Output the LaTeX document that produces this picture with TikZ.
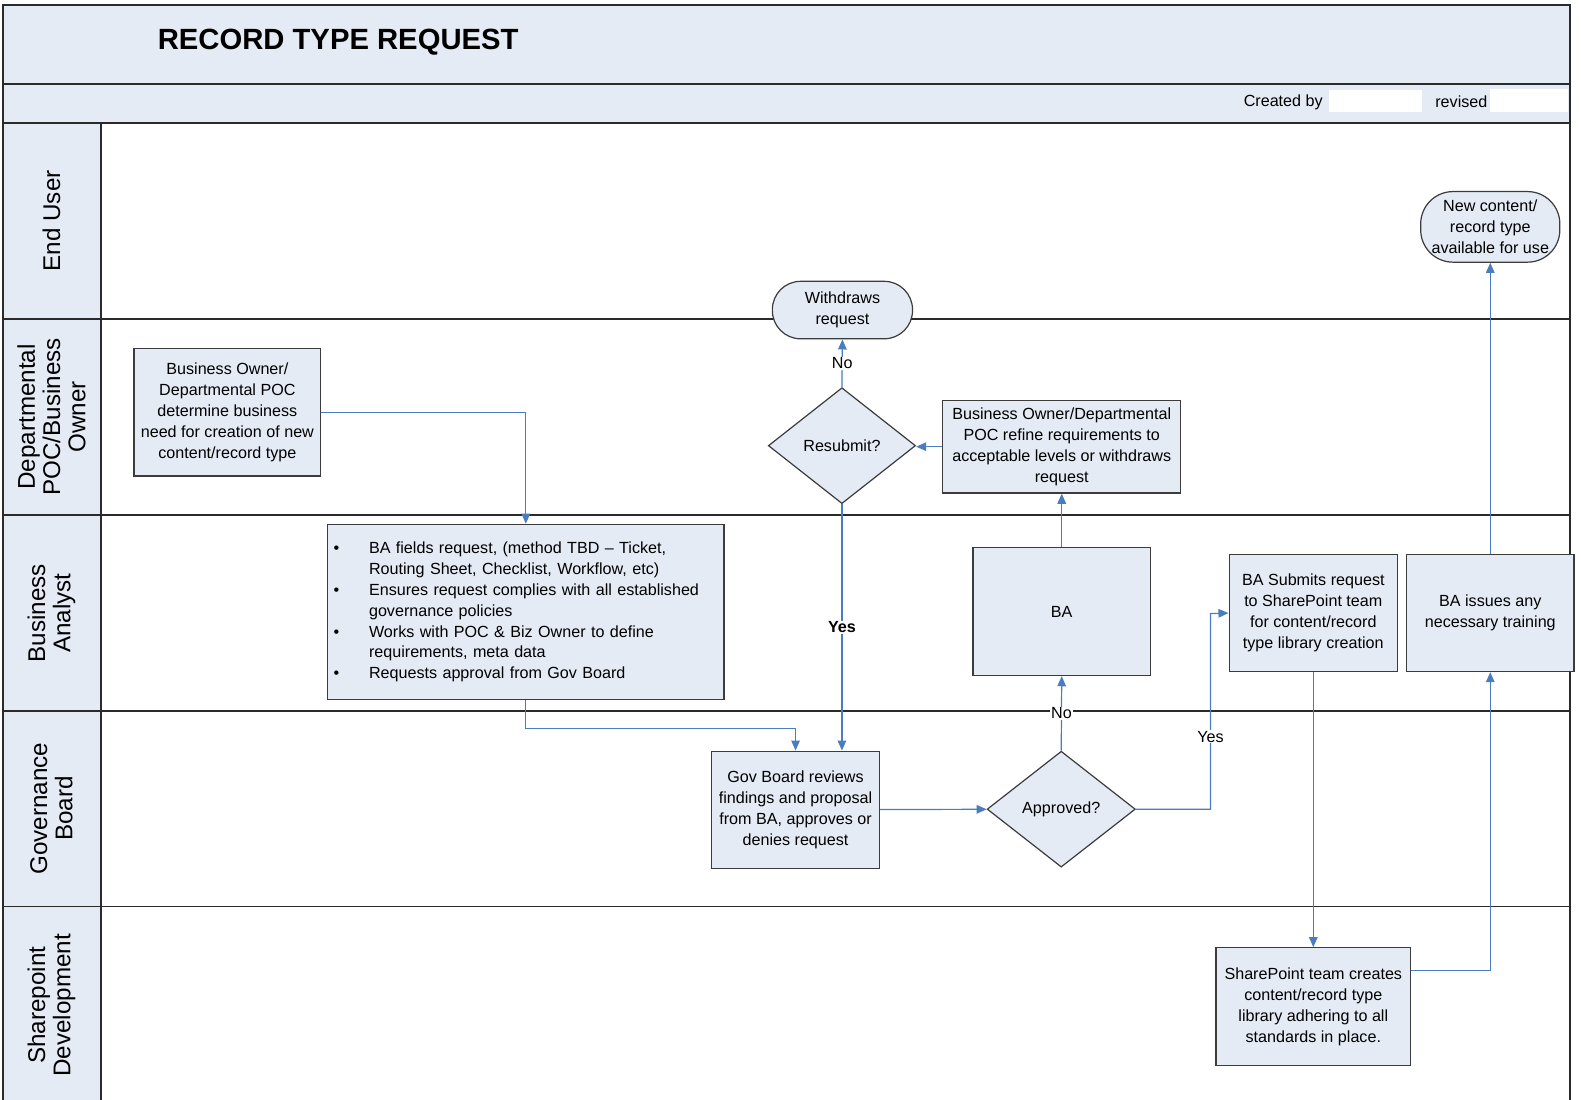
\documentclass[tikz,border=0pt]{standalone}
\usepackage{fontspec}
\setmainfont{Liberation Sans}
\usetikzlibrary{arrows.meta,positioning,shapes.geometric}
\definecolor{lanefill}{HTML}{E5EBF5}
\definecolor{laneline}{HTML}{2A2A2A}
\definecolor{boxline}{HTML}{3C3C3C}
\definecolor{flowblue}{HTML}{4A7DC0}
\newcommand{\boxfont}{\fontsize{16}{20.7}\selectfont}
\newcommand{\bul}{\makebox[35pt][l]{\textbullet}}
\newcommand{\ind}{\hspace*{35pt}}
\tikzset{
  flowbox/.style={
    draw=boxline,
    fill=lanefill,
    line width=1.2pt,
    align=center,
    inner sep=2pt,
    font=\boxfont
  },
  flowterm/.style={flowbox, rounded corners=28pt},
  flowdecision/.style={flowbox, diamond, inner sep=0pt},
  arrow/.style={-{Triangle[length=10pt,width=8.5pt]}, line width=1.2pt, draw=flowblue},
  yesno/.style={font=\boxfont, fill=white, inner sep=1pt},
  lanelabel/.style={rotate=90, align=center, font=\fontsize{24}{25}\selectfont},
  laneband/.style={draw=laneline, line width=1.8pt}
}
\begin{document}
\begin{tikzpicture}[x=1pt,y=-1pt]
  \useasboundingbox (0,0) rectangle (1568,1090);
  % header bands
  \draw[laneband, fill=lanefill] (3,5) rectangle (1557,83);
  \draw[laneband, fill=lanefill] (3,83) rectangle (1557,122);
  \fill[white] (1318,89) rectangle (1410,111);
  \fill[white] (1478,88) rectangle (1555,111);
  \node[anchor=west, font=\fontsize{29}{32}\selectfont\bfseries] (title) at (153,42) {RECORD TYPE REQUEST};
  \node[anchor=west, font=\boxfont] (created) at (1230,101) {Created by};
  \node[anchor=west, font=\boxfont] (revised) at (1420,101) {revised};
  % swim lanes
  \fill[lanefill] (3,122) rectangle (100,1095);
  \foreach \ytop/\ybot/\lname [count=\i] in {122/316/End User,
      316/511/{Departmental\\POC/Business\\Owner},
      511/705/{Business\\Analyst},
      705/899/{Governance\\Board},
      899/1095/{Sharepoint\\Development}} {
    \draw[laneband] (3,\ytop) rectangle (1557,\ybot);
    \node[lanelabel] (lane\i) at (51,{(\ytop+\ybot)/2}) {\lname};
  }
  \draw[laneband] (100,122) -- (100,1095);

  % steps
  \node[flowbox, minimum width=185pt, minimum height=126pt] (need) at (225.5,409) {Business Owner/\\Departmental POC\\determine business\\need for creation of new\\content/record type};
  \node[flowbox, align=left, text width=381pt, minimum height=174pt, inner xsep=6pt] (fields) at (521.5,607) {\bul BA fields request, (method TBD -- Ticket,\\\ind Routing Sheet, Checklist, Workflow, etc)\\\bul Ensures request complies with all established\\\ind governance policies\\\bul Works with POC \& Biz Owner to define\\\ind requirements, meta data\\\bul Requests approval from Gov Board};
  \node[flowterm, minimum width=139pt, minimum height=57pt] (withdraw) at (835.5,307.5) {Withdraws\\request};
  \node[flowdecision, minimum width=146pt, minimum height=115pt] (resubmit) at (835,442) {Resubmit?};
  \node[flowbox, minimum width=236pt, minimum height=92pt] (refine) at (1053,443) {Business Owner/Departmental\\POC refine requirements to\\acceptable levels or withdraws\\request};
  \node[flowbox, minimum width=176pt, minimum height=127pt] (ba) at (1053,606.5) {BA};
  \node[flowbox, minimum width=167pt, minimum height=116pt] (submit) at (1302.5,608) {BA Submits request\\to SharePoint team\\for content/record\\type library creation};
  \node[flowbox, minimum width=166pt, minimum height=116pt] (training) at (1478,608) {BA issues any\\necessary training};
  \node[flowterm, rounded corners=32pt, minimum width=138pt, minimum height=70pt, inner sep=0pt] (available) at (1478,225) {New content/\\record type\\available for use};
  \node[flowbox, minimum width=166pt, minimum height=116pt] (review) at (789,803) {Gov Board reviews\\findings and proposal\\from BA, approves or\\denies request};
  \node[flowdecision, minimum width=147pt, minimum height=115pt] (approved) at (1052.5,802.5) {Approved?};
  \node[flowbox, minimum width=193pt, minimum height=117pt] (build) at (1302.5,998.5) {SharePoint team creates\\content/record type\\library adhering to all\\standards in place.};

  % flow
  \draw[arrow] (need.east) -| (fields.north);
  \draw[arrow] (fields.south) -- ++(0,28) -| (review.north);
  \draw[arrow] (resubmit.south) -- node[yesno, font=\boxfont\bfseries] {Yes} (review.north -| resubmit.south);
  \draw[arrow] (resubmit.north) -- node[yesno] {No} (withdraw.south);
  \draw[arrow] (refine.west) -- (refine.west -| resubmit.east);
  \draw[arrow] (ba) -- (refine);
  \draw[arrow] (approved.north) -- node[yesno] {No} (ba.south);
  \draw[arrow] (review) -- (approved);
  \draw[arrow] (approved.east) -- ++(74,0) -- node[yesno, pos=0.37] {Yes} ++(0,-194) -- (submit.west);
  \draw[arrow] (submit) -- (build);
  \draw[arrow] ([yshift=36pt]build.east) -| (training.south);
  \draw[arrow] (training) -- (available);
\end{tikzpicture}
\end{document}
